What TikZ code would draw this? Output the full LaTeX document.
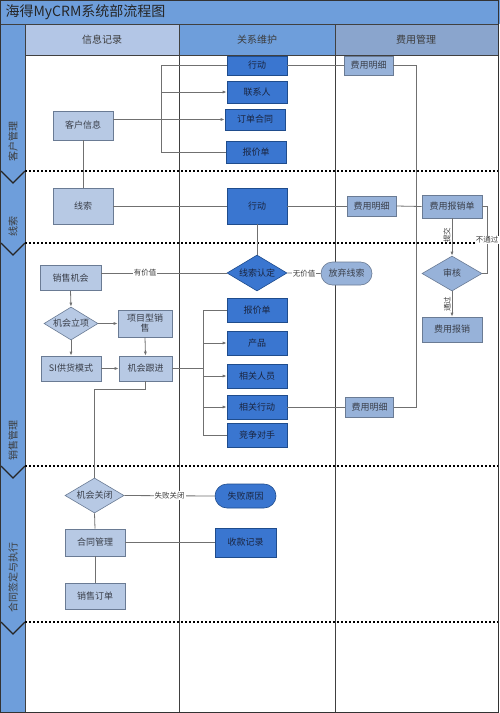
\documentclass[tikz,border=0pt]{standalone}
\usepackage{fontspec}
\setmainfont{Noto Sans CJK SC}
\usetikzlibrary{shapes.geometric,shapes.misc,arrows.meta,calc}
\definecolor{titlebg}{HTML}{6E9EDB}
\definecolor{hdrA}{HTML}{B3C6E6}
\definecolor{hdrB}{HTML}{6E9EDB}
\definecolor{hdrC}{HTML}{8AA5CD}
\definecolor{lfill}{HTML}{B7C9E4}
\definecolor{mfill}{HTML}{97B2D9}
\definecolor{dfill}{HTML}{3A76D0}
\definecolor{lborder}{HTML}{6A7B94}
\definecolor{dborder}{HTML}{1F4C8C}
\definecolor{txt}{HTML}{3A3F4A}
\definecolor{dtxt}{HTML}{1A2540}
\definecolor{lanel}{HTML}{3C3C3C}
\definecolor{conn}{HTML}{707070}
\begin{document}
\begin{tikzpicture}[x=1pt,y=-1pt,
  every node/.style={font=\fontsize{9}{10}\selectfont, text=txt},
  base/.style={draw, line width=0.6pt, inner sep=0pt, align=center},
  lbox/.style={base, rectangle, fill=lfill, draw=lborder, text=txt},
  mbox/.style={base, rectangle, fill=mfill, draw=lborder, text=txt},
  dbox/.style={base, rectangle, fill=dfill, draw=dborder, text=dtxt},
  dia/.style={diamond, aspect=1.67},
  pill/.style={rounded rectangle},
  conline/.style={draw=conn, line width=0.8pt},
  arr/.style={conline, -{Latex[length=4pt,width=3pt]}},
  lbl/.style={fill=white, inner sep=1pt, font=\fontsize{7.5}{8}\selectfont, text=lanel},
  lanetxt/.style={rotate=90, font=\fontsize{10}{11}\selectfont, text=lanel},
  sep/.style={draw=black!75, line width=0.9pt},
  dashsep/.style={draw=black, line width=1.4pt, dash pattern=on 2.4pt off 1.6pt},
  chev/.style={draw=black!85, line width=1.1pt}
]
\useasboundingbox (0,0) rectangle (500,713);
\fill[white] (0,0) rectangle (500,713);
% title bar
\fill[titlebg] (0,0) rectangle (500,24);
\node[anchor=west, font=\fontsize{14}{15}\selectfont, text=black!85] (title) at (2,12.5) {海得MyCRM系统部流程图};
% headers
\fill[hdrA] (25,24) rectangle (179,55);
\fill[hdrB] (179,24) rectangle (335,55);
\fill[hdrC] (335,24) rectangle (498,55);
\node[font=\fontsize{10}{11}\selectfont, text=lanel] (h1) at (102,39.5) {信息记录};
\node[font=\fontsize{10}{11}\selectfont, text=lanel] (h2) at (257,39.5) {关系维护};
\node[font=\fontsize{10}{11}\selectfont, text=lanel] (h3) at (416,39.5) {费用管理};
% left lane bar
\fill[titlebg] (1,24) rectangle (25,712);
\draw[sep] (25,24) -- (25,712);
\draw[sep] (1,24) -- (498,24);
\draw[sep] (25,55) -- (498,55);
% lane separators
\draw[sep] (179,24) -- (179,712);
\draw[sep] (335,24) -- (335,712);
% dashed lane boundaries and chevrons
\foreach \yy in {171,243,466,622} {
  \draw[dashsep] (25,\yy) -- (498,\yy);
  \draw[chev] (1,\yy) -- (13,\yy+12) -- (25,\yy);
}
% lane labels
\node[lanetxt] (L1) at (13,141) {客户管理};
\node[lanetxt] (L2) at (13,226) {线索};
\node[lanetxt] (L3) at (13,440) {销售管理};
\node[lanetxt] (L4) at (13,577) {合同签定与执行};
% outer frame
\draw[draw=black!80, line width=1.2pt] (0.6,0.6) rectangle (498.5,712.4);

% ---------- lane 1 ----------
\node[lbox, minimum width=60pt, minimum height=29pt] (kh) at (83,125.5) {客户信息};
\node[dbox, minimum width=60pt, minimum height=19pt] (xd1) at (257,65.5) {行动};
\node[dbox, minimum width=60pt, minimum height=22pt] (lxr) at (257,92) {联系人};
\node[dbox, minimum width=60pt, minimum height=21pt] (ddht) at (255,119.5) {订单合同};
\node[dbox, minimum width=60pt, minimum height=22pt] (bjd1) at (256,152) {报价单};
\node[mbox, minimum width=49pt, minimum height=19pt] (fy1) at (368.5,65.5) {费用明细};
\coordinate (busA) at (161,0);
\draw[conline] (kh.east |- ddht) -- (busA |- ddht);
\draw[conline] (xd1.west) -| (busA |- bjd1) -- (bjd1.west);
\draw[arr] (busA |- lxr) -- (lxr.west);
\draw[arr] (busA |- ddht) -- (ddht.west);

% ---------- lane 2 ----------
\node[lbox, minimum width=60pt, minimum height=36pt] (xs) at (83,206) {线索};
\node[dbox, minimum width=60pt, minimum height=36pt] (xd2) at (257,206) {行动};
\node[mbox, minimum width=49pt, minimum height=20pt] (fy2) at (371.5,206) {费用明细};
\node[mbox, minimum width=60pt, minimum height=23pt] (fybx) at (452,206.5) {费用报销单};
\draw[conline] (kh.south) -- (xs.north);
\draw[conline] (xs.east) -- (xd2.west);
\draw[conline] (xd1.east) -- (fy1.west);
\draw[conline] (xd2.east) -- (fy2.west);
\draw[conline] (fy2.east) -- (fybx.west);

% ---------- lane 3 ----------
\node[dbox, dia, minimum width=60pt, minimum height=36pt] (xsrd) at (257,273) {线索认定};
\node[mbox, pill, minimum width=51pt, minimum height=23pt] (fqxs) at (346.5,273.5) {放弃线索};
\node[lbox, minimum width=61pt, minimum height=25pt] (xsjh) at (70.5,278) {销售机会};
\node[lbox, dia, aspect=1.64, minimum width=54pt, minimum height=33pt] (jhlx) at (71,323.5) {机会立项};
\node[lbox, minimum width=54pt, minimum height=27pt] (xmx) at (145,323.5) {项目型销\\售};
\node[lbox, minimum width=60pt, minimum height=25pt] (si) at (71,368.5) {SI供货模式};
\node[lbox, minimum width=53pt, minimum height=25pt] (jhgj) at (145.5,368.5) {机会跟进};
\node[dbox, minimum width=60pt, minimum height=24pt] (bjd2) at (257,310.5) {报价单};
\node[dbox, minimum width=60pt, minimum height=24pt] (cp) at (257,343) {产品};
\node[dbox, minimum width=60pt, minimum height=24pt] (xgry) at (257,376) {相关人员};
\node[dbox, minimum width=60pt, minimum height=24pt] (xgxd) at (257,407) {相关行动};
\node[dbox, minimum width=60pt, minimum height=24pt] (jzds) at (257,435) {竞争对手};
\node[mbox, minimum width=48pt, minimum height=20pt] (fy3) at (369.5,407) {费用明细};
\node[mbox, dia, minimum width=60pt, minimum height=35pt] (sh) at (452,273.5) {审核};
\node[mbox, minimum width=60pt, minimum height=25pt] (fyb) at (452,329.5) {费用报销};

\draw[conline] (xd2.south) -- (xsrd.north);
\draw[conline] (xsrd.west) -- (xsrd.west -| xsjh.east) node[lbl, pos=0.65] (yjz) {有价值};
\draw[conline] (xsrd.east) -- (fqxs.west) node[lbl, midway] (wjz) {无价值};
\draw[arr] (xsjh.south) -- (jhlx.north);
\draw[arr] (jhlx.east) -- (xmx.west);
\draw[arr] (jhlx.south) -- (si.north);
\draw[arr] (xmx.south) -- (jhgj.north);
\draw[arr] (si.east) -- (jhgj.west);
\coordinate (busB) at (203,0);
\draw[conline] (jhgj.east) -- (busB |- jhgj);
\draw[conline] (bjd2.west) -| (busB |- jzds) -- (jzds.west);
\draw[arr] (busB |- cp) -- (cp.west);
\draw[arr] (busB |- xgry) -- (xgry.west);
\draw[arr] (busB |- xgxd) -- (xgxd.west);
\draw[conline] (xgxd.east) -- (fy3.west);
\coordinate (busC) at (416,0);
\draw[conline] (fy1.east) -| (busC |- fy3) -- (fy3.east);
\draw[arr] (fybx.south) -- (sh.north) node[lbl, pos=0.45, rotate=90, fill=none, anchor=south] (tj) {提交};
\coordinate (rt) at (487,0);
\draw[conline] (sh.east) -- (rt |- sh) -- (rt |- fybx) -- (fybx.east);
\node[lbl] (btg) at (487,240) {不通过};
\draw[arr] (sh.south) -- (fyb.north) node[lbl, pos=0.5, rotate=90, fill=none, anchor=south] (tg) {通过};

% ---------- lane 4 ----------
\node[lbox, dia, aspect=1.69, minimum width=59pt, minimum height=35pt] (jhgb) at (94.5,495.5) {机会关闭};
\node[dbox, pill, minimum width=61pt, minimum height=24pt] (sbyy) at (245.5,496) {失败原因};
\node[lbox, minimum width=60pt, minimum height=27pt] (htgl) at (95,542.5) {合同管理};
\node[dbox, minimum width=61pt, minimum height=29pt] (sk) at (245.5,542.5) {收款记录};
\node[lbox, minimum width=60pt, minimum height=26pt] (xsdd) at (95,596) {销售订单};
\draw[conline] (jhgj.south) -- ++(0,8) -| (jhgb.north);
\draw[conline] (jhgb.east) -- (sbyy.west) node[lbl, midway] (sbgb) {失败关闭};
\draw[conline] (jhgb.south) -- (htgl.north);
\draw[conline] (htgl.east) -- (sk.west);
\draw[conline] (htgl.south) -- (xsdd.north);
\end{tikzpicture}
\end{document}
